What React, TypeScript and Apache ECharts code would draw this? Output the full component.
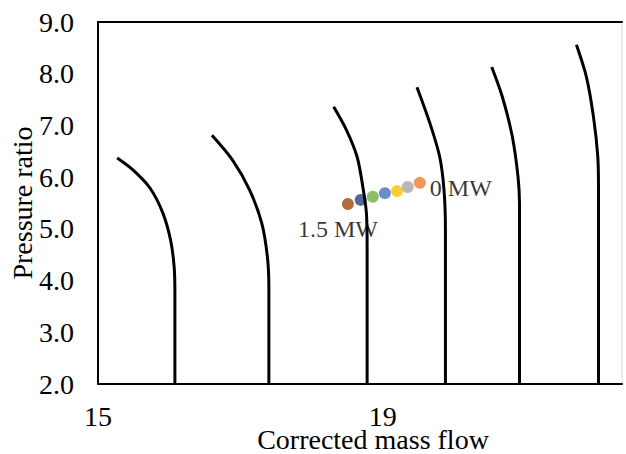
import React, { useEffect, useRef } from "react";
import * as echarts from "echarts";

const xTicks = [15, 19];
const yTicks = ["2.0", "3.0", "4.0", "5.0", "6.0", "7.0", "8.0", "9.0"];

const curve1 = [[15.27, 6.37], [15.49, 6.14], [15.73, 5.79], [15.91, 5.31], [16.02, 4.78], [16.07, 4.26], [16.08, 3.76], [16.08, 2.0]];
const curve2 = [[16.6, 6.81], [16.89, 6.33], [17.13, 5.75], [17.3, 5.11], [17.38, 4.45], [17.4, 3.87], [17.4, 2.0]];
const curve3 = [[18.31, 7.36], [18.49, 6.91], [18.64, 6.39], [18.72, 5.81], [18.77, 5.31], [18.78, 4.65], [18.78, 2.0]];
const curve4 = [[19.48, 7.74], [19.66, 7.05], [19.8, 6.39], [19.86, 5.75], [19.88, 4.98], [19.88, 2.0]];
const curve5 = [[20.53, 8.13], [20.68, 7.55], [20.82, 6.78], [20.9, 6.0], [20.92, 5.5], [20.92, 2.0]];
const curve6 = [[21.72, 8.56], [21.86, 7.94], [21.96, 7.16], [22.02, 6.39], [22.03, 5.75], [22.03, 2.0]];
const curves = [curve1, curve2, curve3, curve4, curve5, curve6];

const powerLabels = ["1.5 MW", "", "", "", "", "", "0 MW"];
const pointX = [18.51, 18.69, 18.86, 19.03, 19.2, 19.35, 19.52];
const pointY = [5.48, 5.56, 5.62, 5.69, 5.73, 5.81, 5.89];
const pointColors = ["#9E480E", "#264478", "#70AD47", "#4472C4", "#FFC000", "#A5A5A5", "#ED7D31"];

const FONT = "'Liberation Serif', 'Times New Roman', serif";

export default function App() {
  const ref = useRef<HTMLDivElement>(null);
  useEffect(() => {
    if (!ref.current) return;
    const chart = echarts.init(ref.current, null, { renderer: "svg" });
    const points = pointX.map((x, i) => {
      const lbl = powerLabels[i];
      const item: any = {
        value: [x, pointY[i]],
        itemStyle: { color: pointColors[i] },
      };
      if (i === 0) {
        item.label = {
          show: true,
          formatter: lbl,
          position: "bottom",
          offset: [-10, 2],
          fontFamily: FONT,
          fontSize: 24,
          color: "#000",
        };
      } else if (i === pointX.length - 1) {
        item.label = {
          show: true,
          formatter: lbl,
          position: "right",
          distance: 4,
          offset: [0, 5],
          fontFamily: FONT,
          fontSize: 24,
          color: "#000",
        };
      }
      return item;
    });
    chart.setOption({
      animation: false,
      backgroundColor: "#fff",
      grid: {
        left: 98,
        top: 22,
        right: 4,
        bottom: 70,
        show: true,
        borderColor: "#d9d9d9",
        borderWidth: 1,
        containLabel: false,
        outerBoundsMode: "none",
      },
      xAxis: [
        {
          type: "value",
          min: 15,
          max: 22.36,
          interval: 4,
          name: "Corrected mass flow",
          nameLocation: "middle",
          nameGap: 43,
          nameMoveOverlap: false,
          nameTextStyle: { fontFamily: FONT, fontSize: 28, lineHeight: 24, color: "#000", padding: [0, 0, 0, 26] },
          axisLine: { show: true, lineStyle: { color: "#000", width: 2 } },
          axisTick: { show: false },
          splitLine: { show: false },
          axisLabel: {
            fontFamily: FONT,
            fontSize: 28,
            lineHeight: 20,
            color: "#000",
            margin: 22,
            showMaxLabel: false,
            formatter: (v: number) => (xTicks.includes(v) ? String(v) : ""),
          },
        },
        {
          type: "value",
          position: "top",
          min: 15,
          max: 22.36,
          axisLine: { show: true, lineStyle: { color: "#000", width: 2 } },
          axisTick: { show: false },
          axisLabel: { show: false },
          splitLine: { show: false },
        },
      ],
      yAxis: {
        type: "value",
        min: 2,
        max: 9,
        interval: 1,
        name: "Pressure ratio",
        nameLocation: "middle",
        nameGap: 62,
        nameMoveOverlap: false,
        nameTextStyle: { fontFamily: FONT, fontSize: 28, color: "#000" },
        axisLine: { show: true, lineStyle: { color: "#000", width: 2 } },
        axisTick: { show: false },
        splitLine: { show: false },
        axisLabel: {
          fontFamily: FONT,
          fontSize: 28,
          color: "#000",
          margin: 24,
          formatter: (v: number) => yTicks[Math.round(v - 2)],
        },
      },
      series: [
        {
          type: "scatter",
          symbolSize: 12,
          data: points,
          z: 2,
        },
        ...curves.map((c) => ({
          type: "line",
          data: c,
          showSymbol: false,
          symbol: "none",
          smooth: 0.3,
          lineStyle: { color: "#000", width: 3 },
          z: 3,
        })),
      ],
    });
    return () => chart.dispose();
  }, []);
  return (
    <div
      ref={ref}
      style={{ position: "fixed", left: 0, top: 0, width: 626, height: 454 }}
    />
  );
}
